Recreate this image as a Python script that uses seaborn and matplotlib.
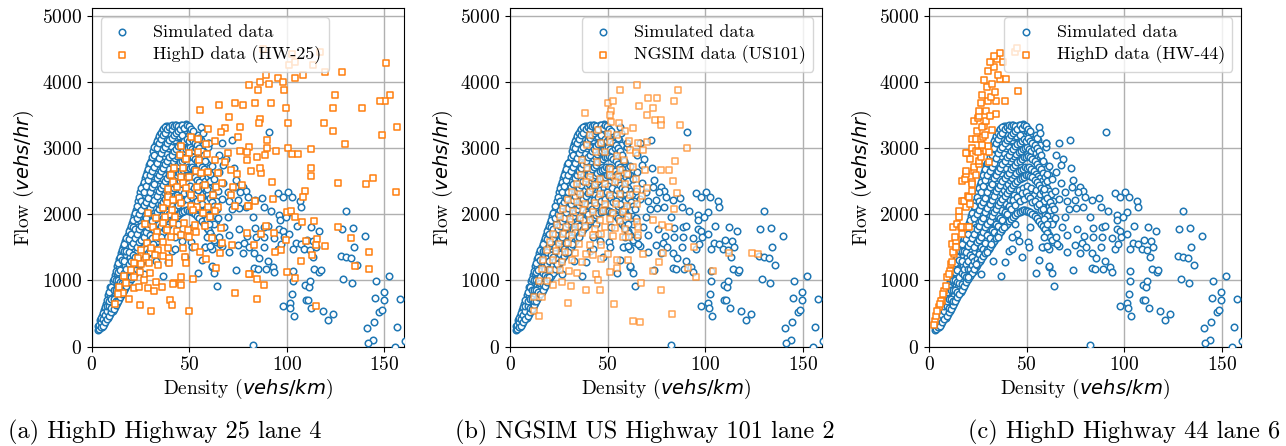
import matplotlib
matplotlib.use("Agg")
import matplotlib.pyplot as plt
import pandas as pd
import seaborn as sns

SIM_COLOR = "#1f77b4"
OBS_COLOR = "#ff7f0e"

# Simulated samples, dense core (first pass): one list of flows per density column
sim_core_density = [3.0, 4.1, 5.2, 6.3, 7.4, 8.5, 9.6, 10.7, 11.8, 12.9, 14.0, 15.1, 16.2,
                    17.3, 18.4, 19.5, 20.6, 21.7, 22.8, 23.9, 25.0, 26.1, 27.2, 28.3, 29.4,
                    30.5, 31.6, 32.7, 33.8, 34.9, 36.0, 37.1, 38.2, 39.3, 40.4, 41.5, 42.6,
                    43.7, 44.8, 45.9, 47.0, 48.1, 49.2, 50.3, 51.4, 52.5, 53.6, 54.7, 55.8,
                    56.9, 58.0, 59.1, 60.2, 61.3, 62.4, 63.5]
sim_core_flows = [
    [255, 315], [275, 350, 400], [300, 390, 470], [345, 440, 560], [400, 510, 650],
    [440, 560, 700, 780], [500, 650, 760, 900], [545, 640, 820, 990], [600, 810, 900, 1080],
    [660, 780, 960, 1100, 1220], [720, 930, 1040, 1210, 1320], [780, 900, 1110, 1260, 1420],
    [830, 1070, 1190, 1400, 1510], [890, 1010, 1230, 1370, 1600], [940, 1180, 1310, 1520, 1690],
    [1000, 1120, 1360, 1580, 1780], [1050, 1240, 1450, 1600, 1870],
    [1100, 1300, 1480, 1720, 1980], [1150, 1420, 1560, 1850, 2070],
    [1210, 1360, 1620, 1810, 2060, 2200], [1260, 1530, 1690, 1920, 2110, 2330],
    [1300, 1450, 1750, 2000, 2260, 2440], [1350, 1590, 1800, 1980, 2290, 2540],
    [1400, 1700, 1880, 2120, 2360, 2640], [1440, 1610, 1930, 2200, 2420, 2740],
    [1480, 1790, 2010, 2250, 2520, 2810], [1530, 1700, 2060, 2300, 2580, 2770, 2960],
    [1580, 1880, 2100, 2380, 2640, 2880, 3060], [1620, 1810, 2170, 2460, 2700, 2950, 3140],
    [1670, 1990, 2220, 2510, 2760, 3040, 3210], [1710, 1900, 2290, 2540, 2830, 3090, 3260],
    [1750, 2060, 2340, 2620, 2880, 3150, 3300], [1800, 1990, 2370, 2680, 2930, 3210, 3330],
    [1840, 2150, 2430, 2700, 3000, 3250, 3340], [1880, 2090, 2460, 2770, 3030, 3200, 3310],
    [1920, 2220, 2510, 2800, 3100, 3330], [1950, 2150, 2540, 2850, 3120, 3260, 3350],
    [1980, 2290, 2590, 2880, 3170, 3340], [2010, 2200, 2620, 2910, 3180, 3300],
    [2030, 2360, 2650, 2940, 3230, 3350], [2050, 2270, 2670, 2960, 3120, 3340],
    [2060, 2400, 2690, 2990, 3270, 3360], [2060, 2310, 2710, 3000, 3180, 3300],
    [2050, 2420, 2700, 3020, 3250], [2040, 2330, 2720, 2990, 3220],
    [2020, 2400, 2680, 2950, 3180], [2000, 2290, 2660, 3000, 3140],
    [1960, 2360, 2610, 2920, 3200], [1920, 2240, 2580, 2870, 3120],
    [1880, 2300, 2540, 2850, 3050], [1840, 2150, 2500, 2810], [1790, 2200, 2450, 2760],
    [1740, 2060, 2400, 2700], [1690, 2120, 2350, 2600], [1640, 1980, 2300], [1580, 1900, 2200],
]

# Simulated samples, dense core (second pass), columns between the first ones
sim_core2_density = [3.5, 4.6, 5.7, 6.8, 7.9, 9.0, 10.1, 11.2, 12.3, 13.4, 14.5, 15.6, 16.7,
                     17.8, 18.9, 20.0, 21.1, 22.2, 23.3, 24.4, 25.5, 26.6, 27.7, 28.8, 29.9,
                     31.0, 32.1, 33.2, 34.3, 35.4, 36.5, 37.6, 38.7, 39.8, 40.9, 42.0, 43.1,
                     44.2, 45.3, 46.4, 47.5, 48.6, 49.7, 50.8, 51.9, 53.0, 54.1, 55.2, 56.3,
                     57.4, 58.5, 59.6, 60.7, 61.8, 62.9]
sim_core2_flows = [
    [265, 335], [290, 370, 430], [320, 420, 510], [370, 480, 600], [420, 540, 610, 700],
    [470, 620, 690, 830], [520, 580, 720, 900], [570, 720, 860, 1020],
    [630, 690, 850, 1010, 1140], [690, 850, 1000, 1130, 1270], [750, 830, 980, 1160, 1360],
    [800, 960, 1050, 1310, 1460], [860, 940, 1120, 1300, 1450, 1550],
    [910, 1090, 1170, 1440, 1640], [970, 1060, 1250, 1430, 1620, 1740],
    [1020, 1180, 1300, 1520, 1700, 1820], [1070, 1170, 1390, 1560, 1810, 1920],
    [1120, 1240, 1360, 1640, 1780, 2020], [1180, 1290, 1500, 1700, 1940, 2130],
    [1230, 1330, 1580, 1770, 2010, 2260], [1280, 1400, 1610, 1830, 2060, 2200, 2390],
    [1320, 1510, 1660, 1900, 2140, 2340, 2490], [1370, 1480, 1730, 1950, 2190, 2420, 2590],
    [1420, 1560, 1800, 2040, 2250, 2520, 2690], [1460, 1680, 1850, 2090, 2340, 2600, 2780],
    [1500, 1640, 1900, 2150, 2410, 2660, 2870],
    [1550, 1760, 1980, 2220, 2460, 2720, 2900, 3010],
    [1600, 1730, 2030, 2280, 2540, 2780, 3000, 3100],
    [1640, 1860, 2080, 2350, 2600, 2850, 3080, 3180],
    [1690, 1830, 2140, 2400, 2650, 2920, 3130, 3230],
    [1730, 1950, 2190, 2440, 2700, 2980, 3190, 3280],
    [1770, 1920, 2230, 2500, 2760, 3020, 3230, 3320],
    [1820, 2040, 2280, 2550, 2810, 3080, 3280], [1860, 2000, 2320, 2590, 2860, 3120, 3320],
    [1900, 2120, 2360, 2630, 2900, 3150, 3280, 3350],
    [1930, 2080, 2400, 2680, 2950, 3200, 3330], [1960, 2210, 2440, 2720, 2990, 3230, 3350],
    [1990, 2140, 2470, 2750, 3030, 3260, 3340], [2020, 2260, 2500, 2790, 3060, 3290],
    [2040, 2200, 2530, 2810, 3080, 3200, 3350], [2050, 2320, 2550, 2840, 3100, 3310],
    [2060, 2230, 2570, 2860, 3130, 3350], [2055, 2330, 2590, 2870, 3110, 3330],
    [2045, 2270, 2600, 2880, 3150, 3290], [2030, 2250, 2580, 2860, 3110, 3250],
    [2010, 2190, 2560, 2840, 3080], [1980, 2200, 2520, 2800, 3040],
    [1940, 2130, 2480, 2760, 3000, 3150], [1900, 2160, 2440, 2720, 2960],
    [1860, 2070, 2390, 2680, 2900], [1820, 2080, 2350, 2620], [1770, 1990, 2300, 2560],
    [1720, 1980, 2250, 2500], [1660, 1900, 2190], [1610, 1850, 2120],
]

# Simulated samples outside the core (density, flow)
sim_outer = [
    (90.6, 3246), (66.6, 3080), (72.0, 3115), (59.8, 3070), (59.8, 3009), (65.0, 2898),
    (68.8, 2828), (58.2, 2808), (61.6, 2732), (72.7, 2697), (65.0, 2642), (67.4, 2742),
    (60.6, 2606), (62.8, 2531), (73.9, 2516), (67.4, 2470), (73.2, 2405), (77.3, 2415),
    (79.0, 2355), (76.1, 2330), (69.7, 2340), (64.5, 2355), (58.9, 2380), (95.4, 2324),
    (100.4, 2340), (97.8, 2264), (102.6, 2254), (106.7, 2193), (107.2, 2113), (87.2, 2239),
    (83.6, 2214), (79.9, 2254), (75.0, 2214), (70.5, 2204), (66.8, 2229), (62.0, 2068),
    (64.0, 2073), (71.9, 2078), (75.3, 2088), (79.0, 2103), (88.1, 2103), (91.8, 2043),
    (96.1, 1987), (101.6, 2027), (82.5, 1962), (96.4, 1912), (99.5, 1962), (130.2, 2048),
    (58.9, 1927), (64.5, 1942), (69.7, 1962), (60.3, 1851), (68.0, 1811), (75.6, 1776),
    (83.8, 1791), (88.4, 1801), (90.1, 1816), (96.1, 1776), (97.8, 1740), (105.1, 1821),
    (112.3, 1801), (116.4, 1740), (128.2, 1770), (133.8, 1791), (140.1, 1670), (65.0, 1650),
    (70.5, 1690), (79.4, 1675), (84.2, 1650), (88.4, 1650), (93.5, 1640), (98.6, 1650),
    (101.2, 1700), (66.8, 1524), (74.8, 1539), (78.2, 1559), (80.4, 1499), (88.1, 1499),
    (95.2, 1474), (96.9, 1549), (104.6, 1559), (107.2, 1549), (110.3, 1610), (113.5, 1600),
    (108.9, 1474), (111.8, 1459), (114.9, 1499), (102.9, 1474), (58.2, 1499), (61.6, 1474),
    (70.5, 1423), (77.3, 1408), (83.3, 1413), (85.5, 1338), (90.1, 1298), (113.2, 1348),
    (127.5, 1373), (130.2, 1348), (132.8, 1338), (134.3, 1499), (135.7, 1237), (61.6, 1207),
    (62.8, 1111), (73.9, 1156), (83.3, 1182), (85.0, 1172), (89.3, 1172), (92.7, 1197),
    (93.5, 1131), (102.9, 1141), (114.0, 1172), (116.6, 1121), (117.4, 1156), (64.0, 920),
    (102.9, 995), (109.4, 925), (111.1, 895), (111.9, 985), (129.0, 1020), (133.3, 955),
    (145.7, 990), (152.4, 1066), (102.6, 789), (101.6, 663), (97.8, 618), (101.7, 583),
    (103.4, 467), (109.7, 708), (110.8, 703), (112.5, 577), (118.6, 542), (121.0, 406),
    (123.4, 487), (145.2, 728), (149.8, 819), (149.8, 703), (147.3, 522), (148.6, 552),
    (157.9, 718), (144.6, 376), (141.1, 275), (156.3, 290), (143.9, 104), (141.5, 54),
    (155.3, 0), (160.3, 90), (82.5, 23),
    (26.8, 1096), (36.7, 1061), (20.1, 1046), (29.9, 1423), (38.9, 1272), (40.9, 1448),
    (42.7, 1473), (45.2, 1700), (47.8, 1348), (50.8, 1574), (51.2, 1499), (54.6, 1111),
    (56.3, 1307), (61.4, 1222), (35.5, 1650), (38.4, 1801), (31.6, 1549), (42.7, 1650),
    (46.1, 1599), (58.0, 1499), (60.6, 1524), (58.9, 1650), (65.7, 1549), (56.2, 3311),
    (56.9, 3220), (60.0, 3083), (33.0, 1300), (24.0, 1250), (44.0, 1850), (52.0, 1800),
]

# HighD highway 25, lane 4 (density, flow)
highd25 = [
    (88.0, 4500), (102.7, 4417), (117.2, 4452), (113.6, 4252), (100.9, 4252), (104.4, 4300),
    (150.6, 4291), (153.0, 3802), (150.2, 3717), (147.5, 3717), (156.4, 3314), (148.5, 3193),
    (138.6, 3606), (130.0, 3062), (144.1, 2549), (140.3, 2458), (155.7, 2332), (126.3, 2478),
    (119.4, 4145), (128.0, 4145), (124.6, 3802), (123.5, 3606), (119.2, 3374), (123.5, 3253),
    (112.6, 2987), (112.6, 2695), (112.1, 2584), (109.5, 2347), (108.1, 2267), (104.4, 4064),
    (108.1, 4104), (99.6, 3606), (100.6, 3374), (100.6, 3007), (102.7, 2906), (105.7, 2906),
    (100.3, 2030), (102.3, 2045), (104.0, 1965), (107.8, 1889), (113.8, 1899), (126.3, 1808),
    (132.8, 1642), (142.3, 1431), (142.0, 1179), (134.8, 1219), (119.4, 1516), (115.5, 1627),
    (115.1, 1541), (110.0, 1597), (112.9, 1385), (107.4, 1295), (99.7, 1612), (97.0, 1461),
    (93.8, 1426), (93.2, 1723), (89.3, 1823), (86.9, 1703), (83.0, 1536), (79.6, 1723),
    (104.0, 1043), (100.3, 1124), (88.1, 927), (84.7, 1018), (81.3, 1093), (84.7, 716),
    (115.0, 615), (92.4, 2493), (92.7, 2231), (83.8, 2201), (80.8, 2131), (86.9, 2619),
    (86.4, 2695), (81.8, 2659), (79.6, 2820), (84.7, 2871), (89.0, 2891), (94.4, 2962),
    (89.8, 2997), (89.8, 3123), (80.8, 3012), (83.5, 3687), (92.0, 3687), (86.4, 3435),
    (85.9, 3374), (85.2, 3878), (86.4, 4004), (89.3, 4099), (90.7, 3968), (95.3, 4054),
    (97.9, 3994), (98.4, 3878), (80.8, 3953),
    (55.3, 3576), (65.0, 3646), (73.2, 3677), (77.5, 3646), (70.1, 3475), (59.5, 3284),
    (68.4, 3309), (75.9, 3324), (66.4, 3249), (51.0, 3163), (54.4, 3133), (63.3, 3113),
    (45.5, 3037), (58.7, 3057), (74.9, 3163), (75.8, 2957), (69.8, 2932), (79.5, 2947),
    (45.0, 2896), (50.1, 2932), (54.7, 2947), (59.2, 2906), (48.4, 2836), (55.2, 2821),
    (63.3, 2821), (68.4, 2796), (42.1, 2695), (46.7, 2695), (53.2, 2655), (56.1, 2629),
    (59.5, 2644), (64.7, 2619), (71.2, 2670), (74.4, 2604), (40.7, 2594), (45.5, 2559),
    (50.1, 2569), (41.6, 2493), (46.7, 2468), (43.8, 2408), (48.4, 2393), (54.0, 2418),
    (57.8, 2443), (63.8, 2418), (66.9, 2468), (72.4, 2408), (76.8, 2443), (39.3, 2378),
    (39.3, 2267), (44.5, 2242), (51.0, 2292), (56.1, 2242), (62.1, 2292), (71.5, 2292),
    (41.6, 2217), (38.7, 2166), (45.8, 2166), (51.0, 2126), (54.1, 2116), (59.5, 2116),
    (64.7, 2116), (73.6, 2126), (80.1, 2126), (29.1, 2025), (36.4, 2091), (41.0, 2066),
    (51.8, 2066), (57.0, 2025), (63.3, 2055), (37.3, 1965), (42.8, 1955), (33.0, 1940),
    (27.4, 1854), (31.3, 1814), (36.4, 1864), (41.6, 1864), (47.5, 1874), (52.7, 1839),
    (57.8, 1824), (60.4, 1965), (33.5, 1738), (38.6, 1763), (43.8, 1753), (49.3, 1763),
    (53.5, 1738), (33.0, 1663), (36.4, 1587), (40.7, 1663), (45.8, 1688), (50.1, 1663),
    (66.4, 1788), (61.6, 1638), (66.7, 1572), (71.9, 1537), (28.4, 1562), (25.3, 1461),
    (30.4, 1486), (33.9, 1461), (39.3, 1486), (46.7, 1486), (52.7, 1502), (55.3, 1436),
    (23.6, 1335), (27.9, 1361), (32.2, 1386), (36.4, 1371), (39.8, 1335), (47.9, 1361),
    (58.7, 1320), (65.5, 1421), (21.5, 1270), (25.3, 1250), (29.6, 1260), (33.9, 1235),
    (39.8, 1260), (48.4, 1260), (63.8, 1184), (20.2, 1159), (25.0, 1134), (30.1, 1109),
    (16.8, 1068), (21.9, 1048), (27.0, 1008), (33.0, 983), (42.1, 968), (45.8, 1048),
    (51.8, 1023), (17.6, 958), (21.9, 882), (24.4, 897), (29.1, 882), (32.1, 847),
    (35.9, 897), (41.6, 943), (45.8, 933), (14.2, 907), (15.9, 807), (13.3, 797),
    (19.3, 716), (12.0, 646), (25.0, 630), (30.4, 545), (40.2, 706), (41.0, 630),
    (49.6, 545), (73.6, 807), (80.4, 1099),
]

# NGSIM US-101, lane 2 (density, flow)
ngsim101 = [
    (64.9, 3951), (56.4, 3870), (85.9, 3870), (70.9, 3754), (75.5, 3754), (84.0, 3709),
    (50.4, 3679), (52.6, 3709), (66.3, 3633), (73.1, 3608), (38.6, 3533), (51.6, 3558),
    (51.2, 3492), (70.4, 3497), (74.3, 3427), (77.2, 3427), (51.6, 3392), (56.0, 3377),
    (62.9, 3301), (58.9, 3251), (77.4, 3341), (87.1, 3341), (90.9, 3004), (45.3, 3266),
    (41.0, 3190), (50.4, 3215), (54.7, 3190), (39.6, 3039), (46.5, 3074), (51.2, 3089),
    (61.1, 3105), (65.8, 3074), (70.4, 3089), (36.7, 2813), (44.1, 2939), (48.7, 2939),
    (54.7, 2873), (58.4, 2813), (61.5, 2964), (64.6, 2923), (68.0, 2964), (84.5, 2798),
    (39.6, 2702), (44.7, 2788), (51.2, 2687), (56.4, 2662), (62.9, 2712), (69.2, 2672),
    (77.2, 2672), (81.3, 2672), (36.2, 2586), (41.0, 2561), (46.1, 2536), (51.2, 2586),
    (55.5, 2561), (59.8, 2601), (64.6, 2536), (83.4, 2501), (34.2, 2460), (38.9, 2486),
    (43.6, 2435), (48.7, 2460), (53.8, 2486), (58.9, 2450), (64.9, 2385), (70.0, 2400),
    (31.6, 2334), (35.9, 2309), (41.0, 2334), (46.1, 2309), (51.2, 2284), (56.4, 2309),
    (61.5, 2284), (67.5, 2269), (85.4, 2319), (29.9, 2208), (34.2, 2183), (38.4, 2158),
    (43.6, 2168), (48.7, 2148), (54.3, 2158), (60.1, 2118), (64.9, 2148), (84.2, 2083),
    (27.3, 2083), (32.5, 2047), (37.2, 2067), (42.7, 2032), (47.8, 2047), (52.9, 2017),
    (58.1, 2032), (25.6, 1957), (30.7, 1932), (35.9, 1947), (41.0, 1906), (46.1, 1916),
    (51.2, 1932), (56.4, 1896), (60.6, 1957), (65.2, 1881), (73.4, 1916), (77.7, 1831),
    (81.6, 1806), (23.9, 1831), (28.7, 1806), (33.3, 1806), (38.4, 1816), (43.6, 1781),
    (48.7, 1806), (53.8, 1796), (58.9, 1781), (65.8, 1806), (22.2, 1705), (27.0, 1695),
    (31.6, 1680), (36.7, 1715), (42.4, 1680), (46.5, 1695), (52.9, 1665), (58.1, 1655),
    (61.1, 1655), (65.8, 1680), (20.5, 1579), (25.3, 1554), (29.9, 1564), (35.5, 1544),
    (41.0, 1529), (46.5, 1529), (18.8, 1453), (23.6, 1443), (28.2, 1428), (33.3, 1413),
    (38.9, 1403), (42.7, 1378), (50.4, 1393), (68.0, 1393), (78.2, 1413), (17.1, 1302),
    (21.9, 1302), (26.5, 1277), (31.6, 1302), (36.7, 1277), (46.5, 1327), (54.7, 1302),
    (60.6, 1302), (76.5, 1277), (16.2, 1176), (20.5, 1161), (25.6, 1151), (30.4, 1141),
    (34.2, 1111), (44.1, 1091), (51.2, 1126), (55.0, 1191), (73.1, 1141), (15.0, 985),
    (18.8, 990), (21.9, 925), (26.5, 975), (31.1, 910), (38.9, 859), (45.3, 1010),
    (46.1, 859), (67.1, 960), (77.2, 849), (12.3, 758), (16.2, 748), (29.9, 658),
    (12.3, 537), (15.0, 471), (53.5, 638), (62.9, 386), (66.6, 371), (82.8, 497),
    (94.3, 1505), (91.3, 1190), (104.2, 1150), (95.3, 1049), (124.1, 1418), (127.2, 1393),
    (112.4, 1418),
]

# HighD highway 44, lane 6 (density, flow)
highd44 = [
    (3.1, 391), (3.8, 467), (5.1, 593), (6.8, 694), (4.3, 542), (6.0, 693), (7.7, 845),
    (8.5, 920), (9.4, 1046), (10.6, 1147), (11.1, 1247), (11.9, 1273), (12.8, 1398),
    (12.3, 1424), (11.6, 1550), (13.6, 1599), (13.3, 1650), (12.3, 1801), (14.5, 1852),
    (16.2, 1801), (17.1, 1801), (19.6, 1801), (20.5, 1801), (15.4, 1952), (15.4, 2053),
    (18.8, 2103), (17.1, 2204), (17.9, 2204), (20.1, 2280), (20.5, 2254), (22.2, 2355),
    (17.1, 2506), (18.4, 2532), (21.8, 2481), (22.2, 2455), (19.1, 2606), (19.1, 2657),
    (23.0, 2657), (23.0, 2708), (25.6, 2758), (25.6, 2808), (30.7, 2783), (20.8, 2834),
    (26.4, 2869), (19.6, 2918), (19.1, 2919), (22.2, 2999), (23.9, 2959), (25.2, 2934),
    (28.1, 3000), (29.3, 2949), (30.7, 2934), (30.4, 3035), (22.2, 3135), (24.2, 3136),
    (26.4, 3135), (27.6, 3161), (24.7, 3261), (28.1, 3336), (27.3, 3312), (32.1, 3272),
    (23.0, 3403), (25.2, 3453), (29.3, 3403), (25.6, 3487), (34.1, 3513), (25.6, 3564),
    (29.0, 3564), (26.4, 3674), (30.4, 3705), (34.5, 3705), (38.9, 3715), (27.3, 3805),
    (31.6, 3775), (29.9, 3916), (32.4, 3966), (28.1, 4027), (36.2, 4042), (39.6, 4042),
    (45.7, 3866), (30.4, 4158), (33.3, 4218), (31.0, 4294), (35.0, 4344), (36.2, 4430),
    (33.3, 4394), (37.9, 4294), (44.0, 4445), (45.2, 4510), (2.8, 330), (5.6, 640),
    (7.2, 790), (10.0, 1100), (14.0, 1500), (16.8, 1700), (21.0, 2150), (24.0, 2600),
    (27.0, 3050), (28.8, 3200), (31.5, 3480), (33.8, 3850), (35.5, 4100),
]

# legend label, observations, legend corner, square opacity, caption
PANELS = [
    ("HighD data (HW-25)", highd25, "upper left", 1.0, "(a) HighD Highway 25 lane 4"),
    ("NGSIM data (US101)", ngsim101, "upper right", 0.7, "(b) NGSIM US Highway 101 lane 2"),
    ("HighD data (HW-44)", highd44, "upper right", 1.0, "(c) HighD Highway 44 lane 6"),
]

sim_pairs = [(d, f) for d, col in zip(sim_core_density, sim_core_flows) for f in col]
sim_pairs += [(d, f) for d, col in zip(sim_core2_density, sim_core2_flows) for f in col]
sim_pairs += sim_outer
sim_df = pd.DataFrame(sim_pairs, columns=["density", "flow"])

plt.rcParams.update({
    "font.family": ["cmr10"],
    "mathtext.fontset": "dejavusans",
    "axes.formatter.use_mathtext": True,
    "font.size": 14,
})

fig = plt.figure(figsize=(12.86, 4.46), dpi=100)
lefts = [91.7 / 1286, 510.0 / 1286, 929.0 / 1286]
caption_x = [8 / 1286, 455 / 1286, 968 / 1286]
width = 312.3 / 1286
bottom = 1 - 346.7 / 446
height = (346.7 - 8.3) / 446

for (label, obs, loc, alpha, caption), left, cx in zip(PANELS, lefts, caption_x):
    ax = fig.add_axes([left, bottom, width, height])
    obs_df = pd.DataFrame(obs, columns=["density", "flow"])
    sns.scatterplot(data=sim_df, x="density", y="flow", ax=ax, marker="o", s=22,
                    facecolor="white", edgecolor=SIM_COLOR, linewidth=1.1,
                    label="Simulated data", zorder=3)
    sns.scatterplot(data=obs_df, x="density", y="flow", ax=ax, marker="s", s=22,
                    facecolor="white", edgecolor=OBS_COLOR, linewidth=1.1, alpha=alpha,
                    label=label, zorder=4)
    ax.set_xlim(0, 160)
    ax.set_ylim(0, 5110)
    ax.set_xticks([0, 50, 100, 150])
    ax.set_yticks([0, 1000, 2000, 3000, 4000, 5000])
    ax.grid(True, color="#b0b0b0", linewidth=1.0, zorder=0)
    ax.set_axisbelow(True)
    ax.set_xlabel("Density ($vehs/km$)", fontsize=14, labelpad=2)
    ax.set_ylabel("Flow ($vehs/hr$)", fontsize=14, labelpad=4)
    ax.tick_params(labelsize=14)
    leg = ax.legend(loc=loc, fontsize=13, framealpha=0.8, handlelength=1.6,
                    handletextpad=0.9, labelspacing=0.3)
    for h in leg.legend_handles:
        h.set_alpha(1.0)
    fig.text(cx, 1 - 432 / 446, caption, ha="left", va="center", fontsize=17.5)

fig.savefig("out.png", dpi=100)
